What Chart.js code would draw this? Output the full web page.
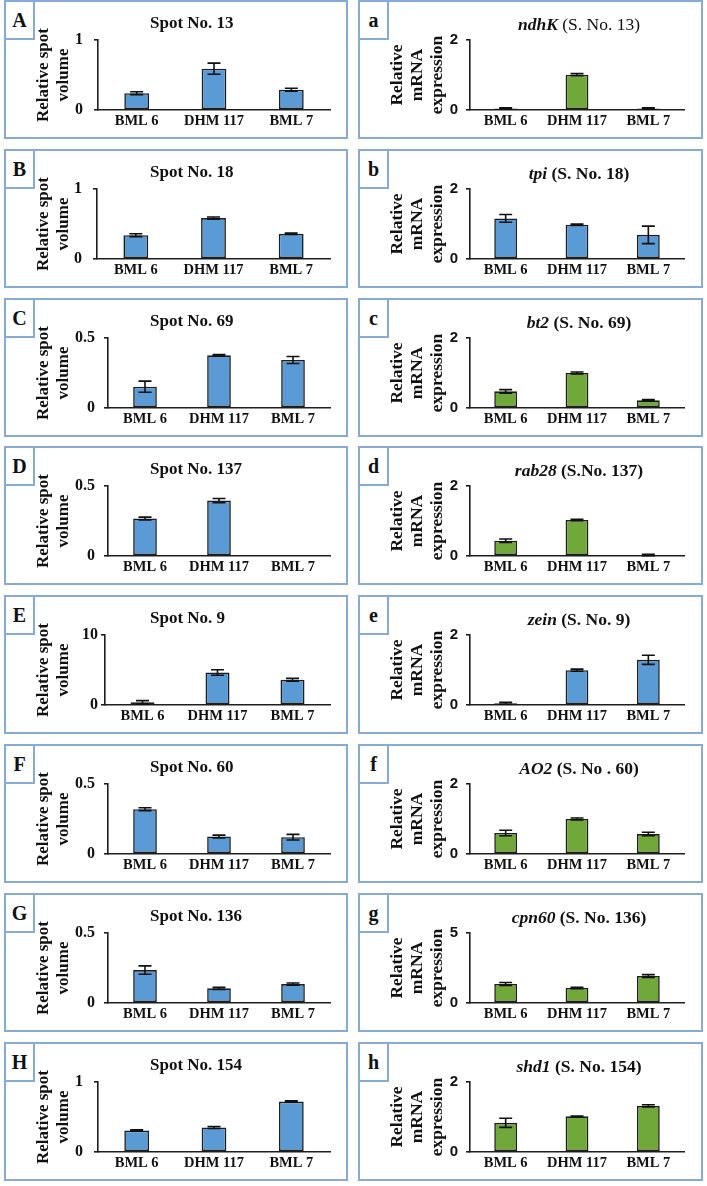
<!DOCTYPE html>
<html><head><meta charset="utf-8">
<script src="https://cdn.jsdelivr.net/npm/chart.js@4/dist/chart.umd.min.js"></script>
<style>
html,body{margin:0;padding:0;background:#fff;}
body{width:707px;height:1186px;position:relative;overflow:hidden;font-family:"Liberation Serif",serif;}
.box{position:absolute;border:2px solid #86abd9;box-sizing:border-box;}
.lab{position:absolute;border:2px solid #86abd9;box-sizing:border-box;background:#fff;font:bold 20px "Liberation Serif",serif;display:flex;align-items:center;justify-content:center;color:#111;}
.ttl{position:absolute;font:bold 17px "Liberation Serif",serif;white-space:nowrap;color:#111;line-height:20px;}
canvas{position:absolute;}
</style></head><body>
<script>
// ---------- data ----------
const categories = ["BML 6", "DHM 117", "BML 7"];
const spotNumbers = [13, 18, 69, 137, 9, 60, 136, 154];
const leftLetters = ["A", "B", "C", "D", "E", "F", "G", "H"];
const rightLetters = ["a", "b", "c", "d", "e", "f", "g", "h"];
const geneNames = ["ndhK", "tpi", "bt2", "rab28", "zein", "AO2", "cpn60", "shd1"];
const spotTitles = ["Spot No. 13", "Spot No. 18", "Spot No. 69", "Spot No. 137", "Spot No. 9", "Spot No. 60", "Spot No. 136", "Spot No. 154"];
const geneTitleSuffix = ["(S. No. 13)", "(S. No. 18)", "(S. No. 69)", "(S.No. 137)", "(S. No. 9)", "(S. No . 60)", "(S. No. 136)", "(S. No. 154)"];

const spotVolA = [0.24, 0.59, 0.29];    const spotErrA = [0.02, 0.08, 0.02];
const spotVolB = [0.34, 0.585, 0.36];   const spotErrB = [0.02, 0.015, 0.01];
const spotVolC = [0.152, 0.376, 0.343]; const spotErrC = [0.04, 0.005, 0.025];
const spotVolD = [0.268, 0.396, 0];     const spotErrD = [0.01, 0.015, 0];
const spotVolE = [0.38, 4.64, 3.6];     const spotErrE = [0.25, 0.4, 0.2];
const spotVolF = [0.32, 0.125, 0.12];   const spotErrF = [0.01, 0.01, 0.02];
const spotVolG = [0.235, 0.105, 0.135]; const spotErrG = [0.03, 0.008, 0.008];
const spotVolH = [0.306, 0.35, 0.72];   const spotErrH = [0.01, 0.015, 0.01];

const mrnaA = [0.04, 1.01, 0.04];  const mrnaErrA = [0.02, 0.03, 0.02];
const mrnaB = [1.16, 0.98, 0.69];  const mrnaErrB = [0.11, 0.02, 0.25];
const mrnaC = [0.476, 1.0, 0.22];  const mrnaErrC = [0.05, 0.03, 0.02];
const mrnaD = [0.436, 1.03, 0.03]; const mrnaErrD = [0.05, 0.02, 0.02];
const mrnaE = [0.05, 0.995, 1.29]; const mrnaErrE = [0.03, 0.03, 0.13];
const mrnaF = [0.6, 1.0, 0.57];    const mrnaErrF = [0.08, 0.03, 0.05];
const mrnaG = [1.36, 1.07, 1.93];  const mrnaErrG = [0.1, 0.05, 0.1];
const mrnaH = [0.835, 1.02, 1.32]; const mrnaErrH = [0.13, 0.01, 0.03];

const spotYMax = [1, 1, 0.5, 0.5, 10, 0.5, 0.5, 1];
const mrnaYMax = [2, 2, 2, 2, 2, 2, 5, 2];
const mrnaIsGreen = [true, false, true, true, false, true, true, true];

const spotVals = [spotVolA, spotVolB, spotVolC, spotVolD, spotVolE, spotVolF, spotVolG, spotVolH];
const spotErrs = [spotErrA, spotErrB, spotErrC, spotErrD, spotErrE, spotErrF, spotErrG, spotErrH];
const mrnaVals = [mrnaA, mrnaB, mrnaC, mrnaD, mrnaE, mrnaF, mrnaG, mrnaH];
const mrnaErrs = [mrnaErrA, mrnaErrB, mrnaErrC, mrnaErrD, mrnaErrE, mrnaErrF, mrnaErrG, mrnaErrH];

// ---------- layout / style ----------
const BLUE = "#5b9bd5", GREEN = "#70a83a", INK = "#1e1e1e";
const leftAxisX = [98, 97, 108, 108, 105, 108, 108, 98];
const leftTickPad = [11, 11, 9, 9, 3, 9, 9, 11];
const rowPitch = 148.8;

function errorBars(errs) {
  return {
    id: "errbars",
    afterDatasetsDraw(chart) {
      const meta = chart.getDatasetMeta(0), ys = chart.scales.y, ctx = chart.ctx;
      const vals = chart.data.datasets[0].data;
      ctx.save();
      ctx.strokeStyle = "#111"; ctx.lineWidth = 1.6;
      meta.data.forEach((bar, i) => {
        const e = errs[i]; if (!e) return;
        const x = bar.x;
        const y1 = ys.getPixelForValue(vals[i] + e);
        const y2 = ys.getPixelForValue(Math.max(0, vals[i] - e));
        ctx.beginPath();
        ctx.moveTo(x, y1); ctx.lineTo(x, y2);
        ctx.moveTo(x - 6.5, y1); ctx.lineTo(x + 6.5, y1);
        ctx.moveTo(x - 6.5, y2); ctx.lineTo(x + 6.5, y2);
        ctx.stroke();
      });
      ctx.restore();
    }
  };
}

function makePanel(cx, top, w, vals, errs, color, yMax, axisX, tickPad, tickFont, yTitle, titlePadTop, titleSize) {
  const c = document.createElement("canvas");
  c.width = w; c.height = 140;
  c.style.left = cx + "px"; c.style.top = top + "px";
  document.body.appendChild(c);
  new Chart(c, {
    type: "bar",
    data: { labels: categories, datasets: [{ data: vals, backgroundColor: color, borderColor: INK, borderWidth: 1.6, borderSkipped: false, barPercentage: 1, categoryPercentage: 0.32 }] },
    options: {
      responsive: false, animation: false, events: [],
      layout: { padding: { left: 0, right: w - 330, top: 39, bottom: 0 } },
      plugins: { legend: { display: false }, tooltip: { enabled: false }, title: { display: false } },
      scales: {
        x: {
          grid: { display: false, drawTicks: false },
          border: { display: true, color: INK, width: 1.6 },
          ticks: { font: { family: "Liberation Serif", size: 14.5, weight: "bold" }, color: "#111", padding: 3, maxRotation: 0, autoSkip: false },
          afterFit: s => { s.height = 31; }
        },
        y: {
          min: 0, max: yMax,
          ticks: { stepSize: yMax, font: tickFont, color: "#111", padding: tickPad },
          grid: { drawOnChartArea: false, drawTicks: true, tickLength: 4, color: INK, lineWidth: 1.6 },
          border: { display: true, color: INK, width: 1.6 },
          title: { display: true, text: yTitle, font: { family: "Liberation Serif", size: titleSize, weight: "bold", lineHeight: 20 / titleSize }, color: "#111", padding: { top: titlePadTop, bottom: 0 } },
          afterFit: s => { s.width = axisX; }
        }
      }
    },
    plugins: [errorBars(errs)]
  });
}

function addBox(left, top, width, letter) {
  const b = document.createElement("div");
  b.className = "box";
  Object.assign(b.style, { left: left + "px", top: (top - 1) + "px", width: width + "px", height: "139px" });
  document.body.appendChild(b);
  const l = document.createElement("div");
  l.className = "lab";
  Object.assign(l.style, { left: left + "px", top: (top - 1) + "px", width: "31px", height: "40px" });
  l.textContent = letter;
  document.body.appendChild(l);
}

for (let i = 0; i < 8; i++) {
  const T = Math.round(1 + i * rowPitch);
  // left panel
  addBox(4, T, 344, leftLetters[i]);
  makePanel(0, T, 354, spotVals[i], spotErrs[i], BLUE, spotYMax[i], leftAxisX[i], leftTickPad[i],
    { family: "Liberation Serif", size: 16, weight: "bold" }, ["Relative spot", "volume"], 34, 17);
  const t1 = document.createElement("div");
  t1.className = "ttl";
  t1.textContent = spotTitles[i];
  Object.assign(t1.style, { left: "150px", top: (T + 12) + "px" });
  document.body.appendChild(t1);

  // right panel
  addBox(358, T, 345, rightLetters[i]);
  makePanel(354, T, 353, mrnaVals[i], mrnaErrs[i], mrnaIsGreen[i] ? GREEN : BLUE, mrnaYMax[i], 116, 8,
    { family: "Liberation Sans", size: 15, weight: "bold" }, ["Relative", "mRNA", "expression"], 33, 17.5);
  const t2 = document.createElement("div");
  t2.className = "ttl";
  t2.style.fontSize = "17.5px";
  const g = document.createElement("span");
  g.style.fontStyle = "italic";
  g.textContent = geneNames[i];
  const s = document.createElement("span");
  s.textContent = " " + geneTitleSuffix[i];
  if (i === 0) s.style.fontWeight = "normal";
  t2.appendChild(g); t2.appendChild(s);
  Object.assign(t2.style, { left: (354 + 225) + "px", top: (T + 12.5) + "px", transform: "translateX(-50%)" });
  document.body.appendChild(t2);
}
</script>
</body></html>
